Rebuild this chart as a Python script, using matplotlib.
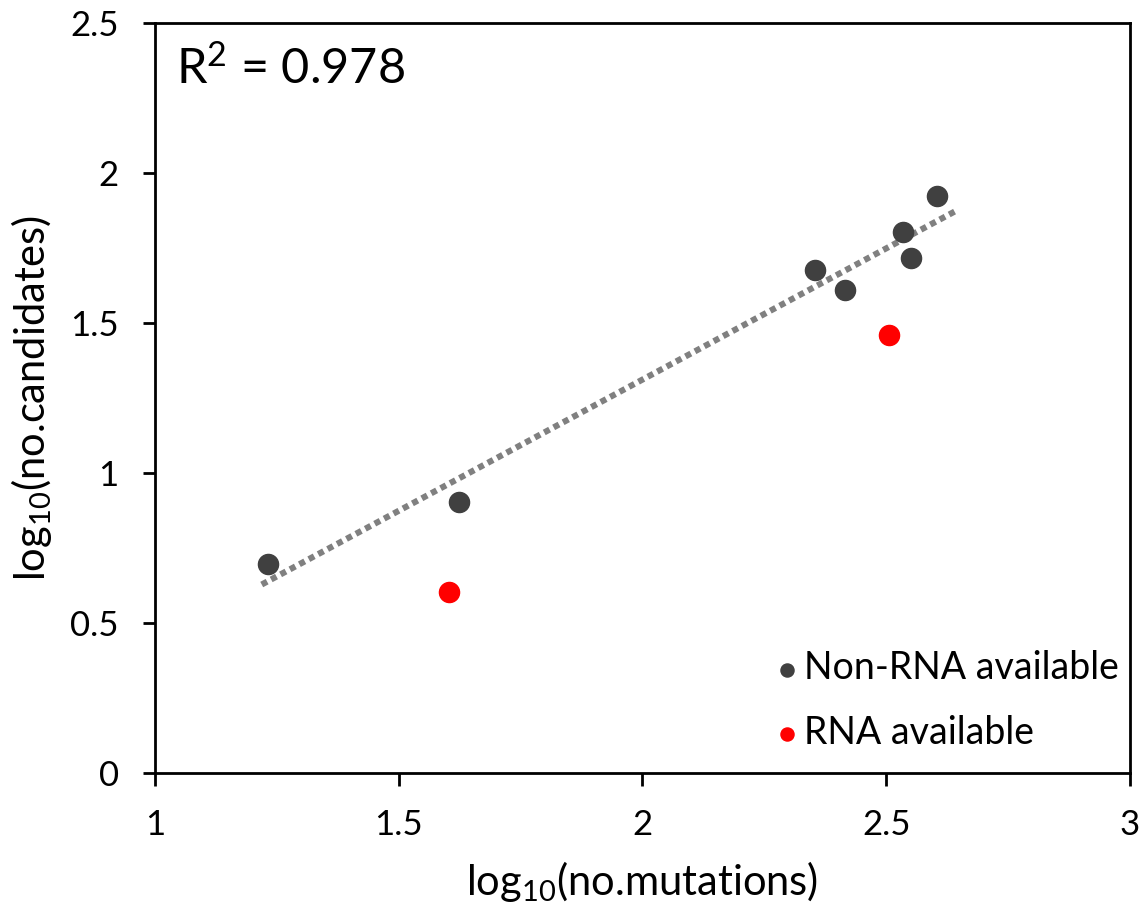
import numpy as np
import matplotlib
matplotlib.use("Agg")
import matplotlib.pyplot as plt

plt.rcParams['font.family'] = ['Lato', 'DejaVu Sans']

# log10 values
non_rna_x = [1.232, 1.624, 2.354, 2.415, 2.534, 2.551, 2.604]
non_rna_y = [0.697, 0.903, 1.677, 1.610, 1.803, 1.717, 1.923]
rna_x = [1.603, 2.506]
rna_y = [0.603, 1.460]

x_ticks = [1, 1.5, 2, 2.5, 3]
x_tick_labels = ['1', '1.5', '2', '2.5', '3']
y_ticks = [0, 0.5, 1, 1.5, 2, 2.5]
y_tick_labels = ['0', '0.5', '1', '1.5', '2', '2.5']

fig = plt.figure(figsize=(11.47, 9.13), dpi=100)
ax = fig.add_axes([0.1351, 0.1533, 0.8501, 0.8215])

# linear trend fitted to the non-RNA points
slope, intercept = np.polyfit(non_rna_x, non_rna_y, 1)
xs = np.array([min(non_rna_x) - 0.013, max(non_rna_x) + 0.04])
ax.plot(xs, slope * xs + intercept, color='#808080', lw=4.4,
        linestyle=(0, (1.0, 0.75)), dash_capstyle='butt', zorder=2)

ax.scatter(non_rna_x, non_rna_y, s=210, color='#404040', label='Non-RNA available', zorder=3)
ax.scatter(rna_x, rna_y, s=210, color='#ff0000', label='RNA available', zorder=3)

ax.set_xlim(1, 3)
ax.set_ylim(0, 2.5)
ax.set_xticks(x_ticks)
ax.set_xticklabels(x_tick_labels)
ax.set_yticks(y_ticks)
ax.set_yticklabels(y_tick_labels)
ax.tick_params(direction='out', length=9, width=2, labelsize=25)
ax.tick_params(axis='x', pad=17)
ax.tick_params(axis='y', pad=17)
for sp in ax.spines.values():
    sp.set_linewidth(2)

ax.set_xlabel(r'log$\mathregular{_{10}}$(no.mutations)', fontsize=30, labelpad=13)
ax.set_ylabel(r'log$\mathregular{_{10}}$(no.candidates)', fontsize=30, labelpad=12)

ax.text(0.022, 0.92, r'R$\mathregular{^2}$ = 0.978', transform=ax.transAxes,
        fontsize=35, va='baseline', ha='left')

ax.legend(loc='lower right', frameon=False, fontsize=27, markerscale=0.65,
          handlelength=0.6, handletextpad=0.15, labelspacing=0.75,
          borderaxespad=0, bbox_to_anchor=(1.004, 0.01))

fig.savefig('out.png', dpi=100)
